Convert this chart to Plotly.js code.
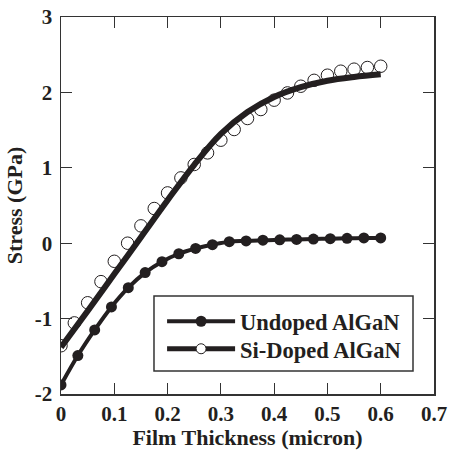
<!DOCTYPE html>
<html>
<head>
<meta charset="utf-8">
<script src="https://cdn.plot.ly/plotly-3.0.1.min.js"></script>
<style>html,body{margin:0;padding:0;background:#fff;}#chart{width:449px;height:450px;}</style>
</head>
<body>
<div id="chart"></div>
<script>
// Undoped AlGaN: 20 measured points, 0 to 0.6 micron
var undopedX = [0, 0.0316, 0.0632, 0.0947, 0.1263, 0.1579, 0.1895, 0.2211, 0.2526, 0.2842,
                0.3158, 0.3474, 0.3789, 0.4105, 0.4421, 0.4737, 0.5053, 0.5368, 0.5684, 0.6];
var undopedY = [-1.88, -1.49, -1.15, -0.845, -0.59, -0.39, -0.245, -0.14, -0.07, -0.02,
                0.02, 0.03, 0.04, 0.045, 0.05, 0.055, 0.06, 0.065, 0.07, 0.07];

// Si-Doped AlGaN: 25 measured points (open circles)
var dopedX = [0, 0.025, 0.05, 0.075, 0.1, 0.125, 0.15, 0.175, 0.2, 0.225, 0.25, 0.275, 0.3,
              0.325, 0.35, 0.375, 0.4, 0.425, 0.45, 0.475, 0.5, 0.525, 0.55, 0.575, 0.6];
var dopedY = [-1.36, -1.057, -0.79, -0.51, -0.24, 0.0, 0.23, 0.46, 0.667, 0.866, 1.044, 1.198, 1.366,
              1.508, 1.654, 1.773, 1.897, 1.993, 2.082, 2.16, 2.228, 2.281, 2.308, 2.33, 2.347];

// Si-Doped fit curve
var fitX = [0, 0.05, 0.1, 0.15, 0.2, 0.25, 0.3, 0.35, 0.4, 0.45, 0.5, 0.55, 0.6];
var fitY = [-1.38, -0.90, -0.41, 0.08, 0.57, 1.04, 1.45, 1.74, 1.94, 2.07, 2.155, 2.205, 2.24];

var xTicks = [0, 0.1, 0.2, 0.3, 0.4, 0.5, 0.6, 0.7];
var xTickText = ['0', '0.1', '0.2', '0.3', '0.4', '0.5', '0.6', '0.7'];
var yTicks = [-2, -1, 0, 1, 2, 3];
var yTickText = ['-2', '-1', '0', '1', '2', '3'];

var legendNames = ['Undoped AlGaN', 'Si-Doped AlGaN'];

var FONT = 'Liberation Serif';
var INK = '#231f20';

var traces = [
  {x: fitX, y: fitY, mode: 'lines', line: {color: INK, width: 6, shape: 'spline'}, showlegend: false, hoverinfo: 'skip'},
  {x: dopedX, y: dopedY, mode: 'markers', marker: {symbol: 'circle-open', size: 12.5, color: INK, line: {width: 1, color: INK}}, showlegend: false},
  {x: undopedX, y: undopedY, mode: 'lines+markers', line: {color: INK, width: 4, shape: 'spline'},
   marker: {symbol: 'circle', size: 11, color: INK}, showlegend: false},
  // legend entries (one per legend so the row spacing can match)
  {x: [null], y: [null], name: legendNames[0], mode: 'lines+markers', line: {color: INK, width: 4},
   marker: {symbol: 'circle', size: 11, color: INK}, legend: 'legend'},
  {x: [null], y: [null], name: legendNames[1], mode: 'lines+markers', line: {color: INK, width: 5},
   marker: {symbol: 'circle', size: 10, color: '#fff', line: {width: 1, color: INK}}, legend: 'legend2'}
];

var axisCommon = {
  showgrid: false, zeroline: false, showline: true, linecolor: '#333', linewidth: 1.5,
  mirror: 'ticks', ticks: 'inside', ticklen: 11, tickwidth: 1.2, tickcolor: '#333',
  tickfont: {family: FONT, size: 21, color: INK, weight: 'bold'}
};

var legendCommon = {
  xanchor: 'left', yanchor: 'middle', bgcolor: 'rgba(0,0,0,0)', borderwidth: 0,
  font: {family: FONT, size: 22.5, color: INK, weight: 'bold'}, itemwidth: 68
};

var layout = {
  width: 449, height: 450,
  margin: {l: 61, r: 15, t: 17, b: 56},
  paper_bgcolor: '#fff', plot_bgcolor: '#fff',
  font: {family: FONT, color: INK, weight: 'bold'},
  xaxis: Object.assign({}, axisCommon, {
    range: [0, 0.7], tickvals: xTicks, ticktext: xTickText,
    title: {text: 'Film Thickness (micron)', font: {family: FONT, size: 22, color: INK, weight: 'bold'}, standoff: 4}
  }),
  yaxis: Object.assign({}, axisCommon, {
    range: [-2, 3], tickvals: yTicks, ticktext: yTickText, ticklabelstandoff: 3,
    title: {text: 'Stress (GPa)', font: {family: FONT, size: 22, color: INK, weight: 'bold'}, standoff: 6}
  }),
  legend: Object.assign({}, legendCommon, {x: 0.271, y: 0.192}),
  legend2: Object.assign({}, legendCommon, {x: 0.271, y: 0.119}),
  shapes: [
    {type: 'rect', xref: 'paper', yref: 'paper', x0: 0.2493, x1: 0.9437, y0: 0.061, y1: 0.26,
     line: {color: '#333', width: 1.5}, fillcolor: '#fff', layer: 'above'}
  ],
  showlegend: true
};

Plotly.newPlot('chart', traces, layout, {displayModeBar: false, staticPlot: true});
</script>
</body>
</html>
